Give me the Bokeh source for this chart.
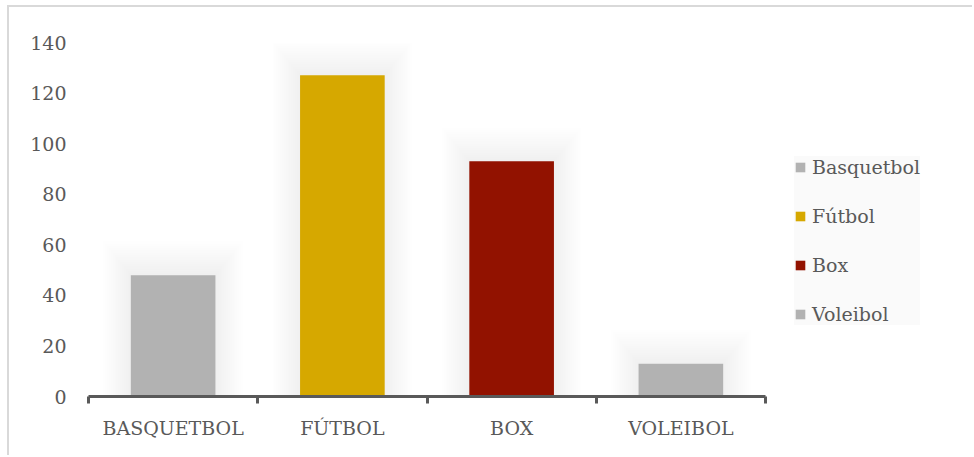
from bokeh.plotting import figure
from bokeh.models import (Range1d, FixedTicker, Legend, LegendItem, ColumnDataSource)
from bokeh.embed import file_html
from bokeh.resources import INLINE

categories = ["BASQUETBOL", "FÚTBOL", "BOX", "VOLEIBOL"]
legend_labels = ["Basquetbol", "Fútbol", "Box", "Voleibol"]
values = [48, 127, 93, 13]
colors = ["#B2B2B2", "#D6A800", "#921200", "#B2B2B2"]
y_ticks = [0, 20, 40, 60, 80, 100, 120, 140]

FONT = "DejaVu Serif"
TXT = "#595959"

n = len(categories)
xpos = [i + 0.5 for i in range(n)]          # category centres
bounds = [i for i in range(n + 1)]           # category boundaries

W, H = 965, 450
LEFT, TOP, BOTTOM = 79, 35, 61
CAT_AREA = 677                               # px used by the four categories
frame_w = W - LEFT
x_end = n * frame_w / CAT_AREA               # leave room on the right for the legend

p = figure(width=W, height=H, x_range=Range1d(0, x_end),
           y_range=Range1d(0, 140), output_backend="svg", toolbar_location=None,
           min_border_left=LEFT, min_border_top=TOP, min_border_bottom=BOTTOM, min_border_right=0)
p.styles = {"margin-left": "7px", "margin-top": "5px",
            "border-top": "2px solid #d9d9d9", "border-left": "2px solid #d9d9d9"}
p.outline_line_color = None
p.grid.grid_line_color = None
p.background_fill_color = "white"
p.border_fill_color = "white"

# y axis
yax = p.yaxis[0]
yax.ticker = FixedTicker(ticks=y_ticks)
yax.axis_line_color = None
yax.major_tick_line_color = None
yax.major_tick_in = 0
yax.major_tick_out = 0
yax.minor_tick_line_color = None
yax.major_label_text_font = FONT
yax.major_label_text_font_size = "19px"
yax.major_label_text_color = TXT
yax.major_label_standoff = 22

# x axis: labels at centres, tick marks at boundaries
xax = p.xaxis[0]
xax.bounds = (0, n)
xax.ticker = FixedTicker(ticks=xpos, minor_ticks=bounds)
xax.major_label_overrides = {x: c for x, c in zip(xpos, categories)}
xax.axis_line_color = "#595959"
xax.axis_line_width = 3
xax.major_tick_line_color = None
xax.major_tick_in = 0
xax.major_tick_out = 7
xax.minor_tick_line_color = "#595959"
xax.minor_tick_line_width = 3
xax.minor_tick_in = 0
xax.minor_tick_out = 7
xax.major_label_text_font = FONT
xax.major_label_text_font_size = "19px"
xax.major_label_text_color = TXT
xax.major_label_standoff = 13

# soft shadows (glow) under the bars
for k in range(1, 16):
    p.vbar(x=xpos, top=[v + 0.9 * k for v in values], width=0.5 + 0.022 * k,
           bottom=0, fill_color="black", fill_alpha=0.005, line_color=None)

src = ColumnDataSource(dict(x=xpos, top=values, color=colors, label=legend_labels))
r = p.vbar(x="x", top="top", width=0.5, bottom=0, fill_color="color", line_color=None, source=src)

items = [LegendItem(label=legend_labels[i], renderers=[r], index=i) for i in range(n)]
legend = Legend(items=items, location=(706, 71), orientation="vertical",
                label_text_font=FONT, label_text_font_size="19px", label_text_color=TXT,
                glyph_width=12, glyph_height=12, label_standoff=6, label_height=20,
                spacing=27, padding=20, margin=0,
                background_fill_color="#FAFAFA", background_fill_alpha=1,
                border_line_color=None)
p.add_layout(legend, "center")

open("out.html", "w").write(file_html(p, INLINE))
